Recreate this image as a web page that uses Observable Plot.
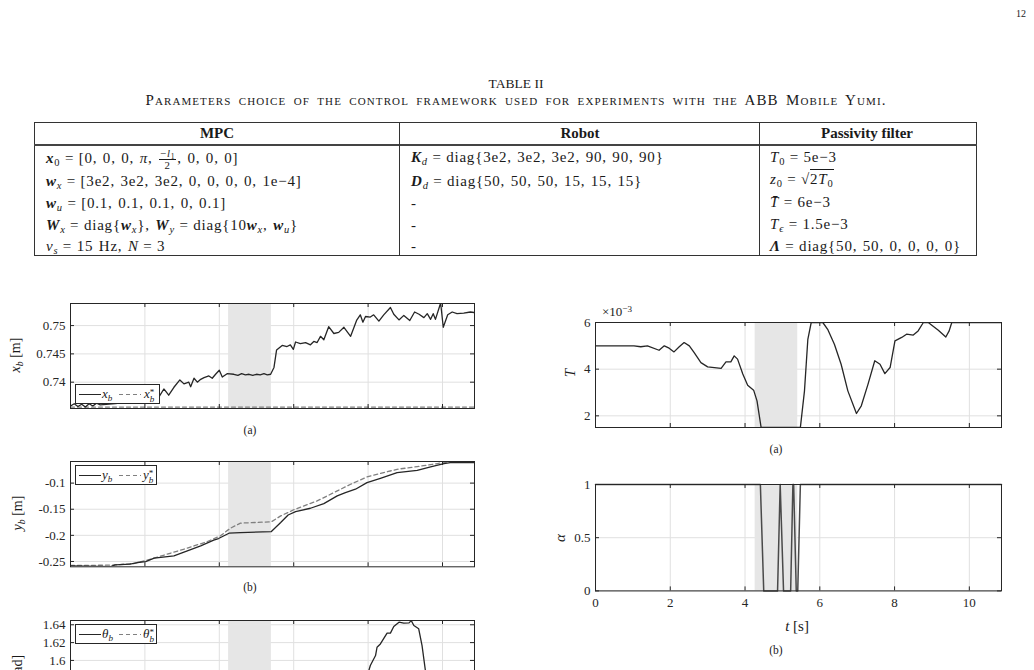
<!DOCTYPE html>
<html><head><meta charset="utf-8">
<script src="https://cdn.jsdelivr.net/npm/d3@7"></script>
<script src="https://cdn.jsdelivr.net/npm/@observablehq/plot@0.6"></script>
<style>
body{margin:0;background:#fff;}
#page{position:relative;width:1034px;height:670px;overflow:hidden;font-family:"Liberation Serif","Times New Roman",serif;color:#1a1a1a;background:#fff;}
.a{position:absolute;white-space:nowrap;}
.c{transform:translate(-50%,-50%);}
.r{transform:translate(-50%,-50%) rotate(-90deg);}
.bi{font-weight:bold;font-style:italic;}
sub{font-size:70%;vertical-align:-0.28em;line-height:0;}
sup{font-size:70%;vertical-align:0.45em;line-height:0;}
.op{padding:0 0.3em;}
.frac{display:inline-block;vertical-align:middle;text-align:center;font-size:72%;line-height:1.05;margin:0 1px;}
.frac .n{display:block;border-bottom:1px solid #1a1a1a;padding:0 1px;}
.frac .d{display:block;}
.sq{border-top:1px solid #1a1a1a;padding-top:1px;}
.cell{position:absolute;white-space:nowrap;font-size:15px;line-height:18px;letter-spacing:0.8px;word-spacing:1px;}
.hd{position:absolute;white-space:nowrap;font-size:15px;font-weight:bold;transform:translate(-50%,-50%);}
.legend{position:absolute;background:#fff;border:1px solid #262626;box-sizing:border-box;font-size:13px;line-height:17px;z-index:5;}
.ls{position:absolute;height:1.3px;}
.solid{background:#262626;}
.dash{background:repeating-linear-gradient(90deg,#808080 0 4px,transparent 4px 7px);}
.lt{position:absolute;top:0;}
.ss{display:inline-block;vertical-align:-0.42em;line-height:0.75;font-size:70%;}
.ss span{display:block;}
.lab{font-size:14px;}
.cap{font-size:11.5px;}
.ov{z-index:6;}
</style></head>
<body><div id="page">
<div id="plots"></div>

<div class="a" style="left:1016px;top:8px;font-size:10px;">12</div>
<div class="a c" style="left:516px;top:84px;font-size:13.5px;">TABLE II</div>
<div class="a c" style="left:516px;top:100px;font-size:15px;font-variant:small-caps;letter-spacing:1.1px;word-spacing:2.5px;">Parameters choice of the control framework used for experiments with the ABB Mobile Yumi.</div>

<!-- table -->
<div class="a" style="left:34px;top:122px;width:943px;height:134px;border:1.3px solid #333;box-sizing:border-box;"></div>
<div class="a" style="left:34px;top:143.5px;width:943px;height:2px;background:#444;"></div>
<div class="a" style="left:399px;top:122px;width:1px;height:134px;background:#333;"></div>
<div class="a" style="left:759px;top:122px;width:1px;height:134px;background:#333;"></div>
<div class="hd" style="left:217px;top:133px;">MPC</div>
<div class="hd" style="left:580px;top:133px;">Robot</div>
<div class="hd" style="left:867px;top:133px;">Passivity filter</div>

<div class="cell" style="left:46px;top:148px;"><span class="bi">x</span><sub>0</sub><span class="op">=</span>[0, 0, 0, <i>π</i>, <span class="frac"><span class="n">−<i>l</i><sub>1</sub></span><span class="d">2</span></span>, 0, 0, 0]</div>
<div class="cell" style="left:46px;top:172px;"><span class="bi">w</span><sub><i>x</i></sub><span class="op">=</span>[3e2, 3e2, 3e2, 0, 0, 0, 0, 1e−4]</div>
<div class="cell" style="left:46px;top:194px;"><span class="bi">w</span><sub><i>u</i></sub><span class="op">=</span>[0.1, 0.1, 0.1, 0, 0.1]</div>
<div class="cell" style="left:46px;top:216px;"><span class="bi">W</span><sub><i>x</i></sub><span class="op">=</span>diag{<span class="bi">w</span><sub><i>x</i></sub>}, <span class="bi">W</span><sub><i>y</i></sub><span class="op">=</span>diag{10<span class="bi">w</span><sub><i>x</i></sub>, <span class="bi">w</span><sub><i>u</i></sub>}</div>
<div class="cell" style="left:46px;top:237px;"><i>ν</i><sub><i>s</i></sub><span class="op">=</span>15 Hz, <i>N</i><span class="op">=</span>3</div>

<div class="cell" style="left:411px;top:148px;"><span class="bi">K</span><sub><i>d</i></sub><span class="op">=</span>diag{3e2, 3e2, 3e2, 90, 90, 90}</div>
<div class="cell" style="left:411px;top:172px;"><span class="bi">D</span><sub><i>d</i></sub><span class="op">=</span>diag{50, 50, 50, 15, 15, 15}</div>
<div class="cell" style="left:411px;top:194px;">-</div>
<div class="cell" style="left:411px;top:216px;">-</div>
<div class="cell" style="left:411px;top:237px;">-</div>

<div class="cell" style="left:770px;top:148px;"><i>T</i><sub>0</sub><span class="op">=</span>5e−3</div>
<div class="cell" style="left:770px;top:170px;"><i>z</i><sub>0</sub><span class="op">=</span>√<span class="sq">2<i>T</i><sub>0</sub></span></div>
<div class="cell" style="left:770px;top:193px;"><i>T̄</i><span class="op">=</span>6e−3</div>
<div class="cell" style="left:770px;top:215px;"><i>T</i><sub><i>ϵ</i></sub><span class="op">=</span>1.5e−3</div>
<div class="cell" style="left:770px;top:237px;"><span class="bi">Λ</span><span class="op">=</span>diag{50, 50, 0, 0, 0, 0}</div>

<!-- axis labels -->
<div class="a r lab ov" style="left:16px;top:355px;"><i>x</i><sub><i>b</i></sub> [m]</div>
<div class="a r lab ov" style="left:18px;top:513px;"><i>y</i><sub><i>b</i></sub> [m]</div>
<div class="a r lab ov" style="left:18px;top:676px;"><i>θ</i><sub><i>b</i></sub> [rad]</div>
<div class="a r lab ov" style="left:570px;top:373px;font-size:15px;"><i>T</i></div>
<div class="a r lab ov" style="left:560px;top:538px;font-size:15px;"><i>α</i></div>
<div class="a c ov" style="left:617px;top:312px;font-size:13px;">×10<sup>−3</sup></div>
<div class="a c ov" style="left:797px;top:626px;font-size:15px;"><i>t</i> [s]</div>
<div class="a c cap ov" style="left:250px;top:430px;">(a)</div>
<div class="a c cap ov" style="left:250px;top:587px;">(b)</div>
<div class="a c cap ov" style="left:776px;top:449px;">(a)</div>
<div class="a c cap ov" style="left:776px;top:650px;">(b)</div>

<!-- legends -->
<div class="legend" style="left:75px;top:384px;width:85px;height:20px;">
  <span class="ls solid" style="left:3px;top:9px;width:22px;"></span>
  <span class="lt" style="left:26px;"><i>x</i><sub><i>b</i></sub></span>
  <span class="ls dash" style="left:43px;top:9px;width:22px;"></span>
  <span class="lt" style="left:68px;"><i>x</i><span class="ss"><span>*</span><span><i>b</i></span></span></span>
</div>
<div class="legend" style="left:75px;top:465px;width:82px;height:20px;">
  <span class="ls solid" style="left:3px;top:9px;width:22px;"></span>
  <span class="lt" style="left:26px;"><i>y</i><sub><i>b</i></sub></span>
  <span class="ls dash" style="left:43px;top:9px;width:22px;"></span>
  <span class="lt" style="left:67px;"><i>y</i><span class="ss"><span>*</span><span><i>b</i></span></span></span>
</div>
<div class="legend" style="left:75px;top:624px;width:82px;height:20px;">
  <span class="ls solid" style="left:3px;top:9px;width:22px;"></span>
  <span class="lt" style="left:26px;"><i>θ</i><sub><i>b</i></sub></span>
  <span class="ls dash" style="left:43px;top:9px;width:22px;"></span>
  <span class="lt" style="left:67px;"><i>θ</i><span class="ss"><span>*</span><span><i>b</i></span></span></span>
</div>
</div>

<script>
// ---------- data ----------
const xTicks = [0, 2, 4, 6, 8, 10];
const tMax = 10.86;
const shadeLeft = [4.25, 5.40];
const shadeRight = [4.27, 5.41];

// (a) x_b [m]
const tXb = [0, 0.1, 0.2, 0.3, 0.4, 0.5, 0.6, 0.7, 0.8, 1.2, 1.6, 2.0, 2.2, 2.37, 2.51, 2.64, 2.78, 2.94, 3.05, 3.18, 3.23, 3.32, 3.41, 3.5, 3.59, 3.72, 3.81, 3.9, 4.0, 4.08, 4.21, 4.39, 4.5, 4.6, 4.7, 4.8, 4.9, 5.0, 5.1, 5.2, 5.29, 5.38, 5.47, 5.54, 5.69, 5.82, 5.91, 5.99, 6.05, 6.18, 6.32, 6.45, 6.54, 6.63, 6.72, 6.81, 6.94, 7.08, 7.21, 7.35, 7.53, 7.69, 7.79, 7.86, 7.93, 8.06, 8.15, 8.29, 8.42, 8.6, 8.69, 8.83, 8.96, 9.12, 9.25, 9.37, 9.5, 9.59, 9.68, 9.75, 9.81, 9.95, 10.02, 10.14, 10.26, 10.39, 10.57, 10.75, 10.86];
const xb = [0.7358, 0.7362, 0.7357, 0.7361, 0.7356, 0.7362, 0.7358, 0.7363, 0.7360, 0.7362, 0.7365, 0.7368, 0.7366, 0.7373, 0.7388, 0.7377, 0.7391, 0.7404, 0.7397, 0.7400, 0.7392, 0.7407, 0.7400, 0.7405, 0.7408, 0.7411, 0.7407, 0.7414, 0.7421, 0.7409, 0.7415, 0.7414, 0.7412, 0.7415, 0.7413, 0.7414, 0.7412, 0.7414, 0.7413, 0.7415, 0.7413, 0.7414, 0.7426, 0.7457, 0.7465, 0.7463, 0.7466, 0.7458, 0.7471, 0.7468, 0.7470, 0.7466, 0.7472, 0.7470, 0.7481, 0.7475, 0.7498, 0.7486, 0.7488, 0.7497, 0.7481, 0.7509, 0.7519, 0.7506, 0.7516, 0.7515, 0.7519, 0.7508, 0.7519, 0.7532, 0.7520, 0.7510, 0.7518, 0.7509, 0.7524, 0.7520, 0.7514, 0.7521, 0.7511, 0.7521, 0.7511, 0.7540, 0.7497, 0.7519, 0.7524, 0.7521, 0.7522, 0.7524, 0.7523];
const tXbRef = [0, 10.86];
const xbRef = [0.7356, 0.7356];
const xbDomain = [0.73535, 0.7539];
const xbTicks = [0.74, 0.745, 0.75];

// (b) y_b [m]
const tYb = [0, 1.08, 1.2, 1.6, 1.8, 2.02, 2.25, 2.78, 3.14, 3.5, 3.85, 3.98, 4.26, 4.57, 5.4, 5.65, 5.85, 6.05, 6.45, 6.81, 7.17, 7.39, 7.66, 7.97, 8.33, 8.78, 9.32, 9.68, 10.04, 10.21, 10.86];
const yb = [-0.2584, -0.2597, -0.2565, -0.2552, -0.252, -0.2501, -0.2437, -0.2393, -0.2297, -0.2201, -0.2093, -0.2061, -0.1959, -0.1946, -0.1927, -0.1755, -0.1610, -0.1545, -0.1481, -0.1392, -0.1245, -0.1181, -0.1117, -0.0990, -0.0907, -0.0799, -0.0754, -0.0690, -0.0626, -0.0607, -0.0607];
const tYbRef = [0, 1.08, 1.7, 2.06, 2.6, 3.14, 3.68, 4.03, 4.3, 4.57, 5.4, 5.65, 6.0, 6.63, 7.17, 7.53, 7.97, 8.42, 8.78, 9.32, 9.86, 10.21, 10.86];
const ybRef = [-0.2577, -0.2571, -0.2539, -0.2475, -0.236, -0.2245, -0.2118, -0.2009, -0.1862, -0.1766, -0.174, -0.1628, -0.151, -0.1341, -0.1149, -0.1022, -0.0882, -0.0799, -0.0735, -0.0684, -0.0626, -0.0588, -0.0575];
const ybDomain = [-0.2602, -0.0586];
const ybTicks = [-0.25, -0.2, -0.15, -0.1];

// (c) theta_b [rad] (only the top of this panel is on the page)
const tTh = [7.9, 8.02, 8.06, 8.2, 8.24, 8.33, 8.51, 8.6, 8.69, 8.83, 8.96, 9.1, 9.16, 9.23, 9.36, 9.45, 9.54, 9.6];
const th = [1.575, 1.5887, 1.5943, 1.6055, 1.6148, 1.6185, 1.6306, 1.6306, 1.6381, 1.6429, 1.6418, 1.6421, 1.6447, 1.6392, 1.6355, 1.6167, 1.5887, 1.575];
const thDomain = [1.527, 1.6448];
const thTicks = [1.54, 1.56, 1.58, 1.6, 1.62, 1.64];

// right (a) T  (x 1e-3)
const tT = [0, 1.03, 1.21, 1.39, 1.7, 1.84, 1.97, 2.1, 2.24, 2.37, 2.51, 2.64, 2.82, 3.0, 3.18, 3.36, 3.49, 3.62, 3.71, 3.8, 3.94, 4.07, 4.23, 4.32, 4.43, 5.48, 5.59, 5.68, 5.77, 6.08, 6.21, 6.39, 6.57, 6.75, 6.98, 7.11, 7.29, 7.47, 7.61, 7.74, 7.88, 8.01, 8.19, 8.32, 8.5, 8.63, 8.77, 8.9, 9.17, 9.37, 9.46, 9.53, 10.86];
const Tms = [5.0, 5.0, 4.96, 5.0, 4.81, 5.0, 4.9, 4.74, 4.96, 5.14, 5.0, 4.71, 4.28, 4.1, 4.07, 4.03, 4.31, 4.31, 4.57, 4.43, 3.79, 3.31, 3.1, 2.64, 1.5, 1.5, 3.07, 5.28, 6.0, 6.0, 5.71, 5.07, 4.21, 3.07, 2.1, 2.43, 3.36, 4.36, 4.21, 3.81, 4.07, 5.21, 5.36, 5.5, 5.46, 5.64, 6.0, 6.0, 5.67, 5.38, 5.64, 6.0, 6.0];
const TDomain = [1.5, 6];
const TTicks = [2, 4, 6];

// right (b) alpha
const tAl = [0, 4.41, 4.50, 4.87, 4.94, 5.03, 5.22, 5.28, 5.30, 5.37, 5.41, 5.48, 10.86];
const al = [1, 1, 0, 0, 1, 0, 0, 1, 1, 0, 0, 1, 1];
const alDomain = [0, 1];
const alTicks = [0, 0.5, 1];

// ---------- drawing ----------
const FONT = "'Liberation Serif','Times New Roman',serif";
const GRID = "#e0e0e0", SHADE = "#e6e6e6", AX = "#262626", LINE = "#262626", REF = "#808080";
const zip = (ts, vs) => ts.map((t, i) => ({t, v: vs[i]}));
const host = document.getElementById("plots");

function panel({svgLeft, fl, fr, ft, fb, yDomain, yTicks, yFormat, xLabels, shade, lines}) {
  const mt = 12, mb = xLabels ? 28 : 12, mr = 14;
  const ml = fl - svgLeft, fh = fb - ft, fw = fr - fl;
  const marks = [
    Plot.gridX(xTicks, {stroke: GRID, strokeOpacity: 1}),
    Plot.gridY(yTicks, {stroke: GRID, strokeOpacity: 1}),
    Plot.rect([shade], {x1: d => d[0], x2: d => d[1], fill: SHADE}),
    ...lines,
    Plot.frame({stroke: AX, strokeWidth: 1}),
    Plot.tickX(xTicks, {x: d => d, insetTop: fh - 4, stroke: AX}),
    Plot.tickX(xTicks, {x: d => d, insetBottom: fh - 4, stroke: AX}),
    Plot.tickY(yTicks, {y: d => d, insetRight: fw - 4, stroke: AX}),
    Plot.tickY(yTicks, {y: d => d, insetLeft: fw - 4, stroke: AX}),
    Plot.axisY(yTicks, {tickSize: 0, tickPadding: 5, tickFormat: yFormat, label: null, fontSize: 13})
  ];
  if (xLabels) marks.push(Plot.axisX(xTicks, {tickSize: 0, tickPadding: 7, label: null, fontSize: 13}));
  const svg = Plot.plot({
    width: fr - svgLeft + mr, height: fh + mt + mb,
    marginLeft: ml, marginRight: mr, marginTop: mt, marginBottom: mb,
    x: {domain: [0, tMax], axis: null},
    y: {domain: yDomain, axis: null},
    style: {fontFamily: FONT, fontSize: "13px", color: AX, background: "transparent", overflow: "visible"},
    marks
  });
  svg.style.position = "absolute";
  svg.style.left = svgLeft + "px";
  svg.style.top = (ft - mt) + "px";
  svg.style.maxWidth = "none";
  host.appendChild(svg);
}

const solid = (d) => Plot.line(d, {x: "t", y: "v", stroke: LINE, strokeWidth: 1.3, clip: true});
const dashed = (d) => Plot.line(d, {x: "t", y: "v", stroke: REF, strokeWidth: 1.3, strokeDasharray: "4,3", clip: true});
const fmt = d => String(d);

panel({svgLeft: 0, fl: 70, fr: 474, ft: 303.3, fb: 408.3, yDomain: xbDomain, yTicks: xbTicks, yFormat: fmt,
  xLabels: false, shade: shadeLeft, lines: [dashed(zip(tXbRef, xbRef)), solid(zip(tXb, xb))]});
panel({svgLeft: 0, fl: 70, fr: 474, ft: 460.7, fb: 566, yDomain: ybDomain, yTicks: ybTicks, yFormat: fmt,
  xLabels: false, shade: shadeLeft, lines: [dashed(zip(tYbRef, ybRef)), solid(zip(tYb, yb))]});
panel({svgLeft: 0, fl: 70, fr: 474, ft: 620, fb: 725, yDomain: thDomain, yTicks: thTicks, yFormat: fmt,
  xLabels: false, shade: shadeLeft, lines: [solid(zip(tTh, th))]});
panel({svgLeft: 530, fl: 595, fr: 1001, ft: 321.7, fb: 426.7, yDomain: TDomain, yTicks: TTicks, yFormat: fmt,
  xLabels: false, shade: shadeRight, lines: [solid(zip(tT, Tms))]});
panel({svgLeft: 530, fl: 595, fr: 1001, ft: 484.3, fb: 590.7, yDomain: alDomain, yTicks: alTicks, yFormat: fmt,
  xLabels: true, shade: shadeRight,
  lines: [Plot.line(zip(tAl, al), {x: "t", y: "v", stroke: "#4a4a4a", strokeWidth: 1.5})]});
</script>
</body></html>
